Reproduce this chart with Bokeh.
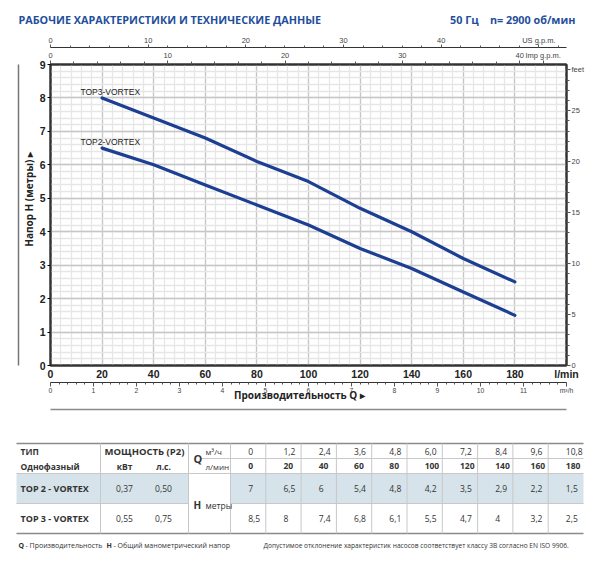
from bokeh.plotting import figure
from bokeh.models import (Range1d, LinearAxis, FixedTicker, Label, ColumnDataSource)
from bokeh.layouts import column
from bokeh.embed import file_html
from bokeh.resources import INLINE
from bokeh.core.properties import value

# ---------------- data ----------------
q_lmin = [0, 20, 40, 60, 80, 100, 120, 140, 160, 180]
q_m3h = [0, 1.2, 2.4, 3.6, 4.8, 6.0, 7.2, 8.4, 9.6, 10.8]
h_top2 = [7, 6.5, 6, 5.4, 4.8, 4.2, 3.5, 2.9, 2.2, 1.5]
h_top3 = [8.5, 8, 7.4, 6.8, 6.1, 5.5, 4.7, 4, 3.2, 2.5]
model_names = ["TOP 2 - VORTEX", "TOP 3 - VORTEX"]
curve_names = ["TOP2-VORTEX", "TOP3-VORTEX"]
power_kw = [0.37, 0.55]
power_hp = [0.50, 0.75]
curve_from = 20          # curves start at 20 l/min
y_ticks_m = list(range(0, 10))
x_ticks_lmin = [0, 20, 40, 60, 80, 100, 120, 140, 160, 180]
m3h_ticks = list(range(0, 12))
us_ticks = [0, 10, 20, 30, 40]
imp_ticks = [0, 10, 20, 30, 40]
feet_ticks = [0, 5, 10, 15, 20, 25]
title_left = "РАБОЧИЕ ХАРАКТЕРИСТИКИ И ТЕХНИЧЕСКИЕ ДАННЫЕ"
title_freq = "50 Гц"
title_speed = "n= 2900 об/мин"
x_title = "Производительность Q  ▸"
y_title = "Напор H (метры)  ▸"

LPM_PER_US = 3.78541
LPM_PER_IMP = 4.54609
M_PER_FT = 0.3048
X_MAX = 200
Y_MAX = 9

BLUE = "#1f4f9c"
CURVE = "#1d3f93"
DARK = "#333333"
AXF = "Liberation Sans"
SANS = "Open Sans"
NB = "\u00a0"

# ---------------- chart figure ----------------
W = 600
PH = 404
ML, MR, MT = 50, 34, 64
FRAME_BOTTOM = 366
MB = PH - FRAME_BOTTOM

p = figure(width=W, height=PH, x_range=Range1d(0, X_MAX), y_range=Range1d(0, Y_MAX),
           output_backend="svg", toolbar_location=None,
           min_border_left=ML, min_border_right=MR, min_border_top=MT, min_border_bottom=MB)
p.outline_line_color = DARK
p.outline_line_width = 2

# title (non-breaking spaces keep the right-hand part on the same row)
p.title.text = title_left + NB * 46 + title_freq + NB * 4 + title_speed
p.title.align = "left"
p.title.offset = -32
p.title.text_font = SANS
p.title.text_font_size = "10.8px"
p.title.text_font_style = "bold"
p.title.text_color = BLUE
p.title.standoff = 12

xt = FixedTicker(ticks=x_ticks_lmin + [X_MAX], minor_ticks=list(range(0, X_MAX + 1, 4)))
yt = FixedTicker(ticks=y_ticks_m, minor_ticks=[i / 5 for i in range(0, 46)])
xa = p.xaxis[0]
xa.ticker = xt
xa.major_label_overrides = {X_MAX: "l/min"}
ya = p.yaxis[0]
ya.ticker = yt
p.xgrid.ticker = xt
p.ygrid.ticker = yt
for g in (p.xgrid, p.ygrid):
    g.grid_line_color = "#c6c6c6"
    g.grid_line_width = 1.3
    g.minor_grid_line_color = "#e6e6e6"
    g.minor_grid_line_width = 1.3

for a in (xa, ya):
    a.axis_line_color = DARK
    a.axis_line_width = 2
    a.major_tick_in = 0
    a.minor_tick_in = 0
    a.minor_tick_out = 0
    a.major_label_text_font = AXF
    a.major_label_text_font_style = "bold"
    a.major_label_text_font_size = "10.5px"
    a.major_label_text_color = "#222222"
xa.major_tick_out = 0
xa.major_label_standoff = 2
ya.major_tick_out = 3
ya.major_label_standoff = 2
ya.axis_label = NB * 13 + y_title
ya.axis_label_text_font = SANS
ya.axis_label_text_font_style = "bold"
ya.axis_label_text_font_size = "10px"
ya.axis_label_text_color = "#222222"
ya.axis_label_standoff = 1

p.extra_x_ranges = {"m3h": Range1d(0, X_MAX * 0.06),
                    "imp": Range1d(0, X_MAX / LPM_PER_IMP),
                    "us": Range1d(0, X_MAX / LPM_PER_US)}
p.extra_y_ranges = {"ft": Range1d(0, Y_MAX / M_PER_FT)}

def small_axis(a, line_w=1.2, tick=5, minor=3, standoff=1, size="7.5px"):
    a.axis_line_color = DARK
    a.axis_line_width = line_w
    a.major_tick_in = 0
    a.minor_tick_in = 0
    a.major_tick_out = tick
    a.minor_tick_out = minor
    a.major_tick_line_color = "#555555"
    a.minor_tick_line_color = "#555555"
    a.major_label_text_font = AXF
    a.major_label_text_font_size = size
    a.major_label_text_color = "#444444"
    a.major_label_standoff = standoff

ax_m3h = LinearAxis(x_range_name="m3h",
                    ticker=FixedTicker(ticks=m3h_ticks + [12], minor_ticks=[i / 5 for i in range(0, 61)]))
small_axis(ax_m3h, tick=4, minor=2, standoff=0, size="6.8px")
ax_m3h.major_label_overrides = {12: "m³/h"}
ax_m3h.axis_label = x_title + NB * 6
ax_m3h.axis_label_text_font = SANS
ax_m3h.axis_label_text_font_style = "bold"
ax_m3h.axis_label_text_font_size = "10px"
ax_m3h.axis_label_text_color = "#222222"
ax_m3h.axis_label_standoff = -9
p.add_layout(ax_m3h, "below")

ax_imp = LinearAxis(x_range_name="imp",
                    ticker=FixedTicker(ticks=imp_ticks + [42], minor_ticks=list(range(0, 44, 2))))
small_axis(ax_imp, 2, tick=4, minor=3)
ax_imp.major_label_overrides = {42: "Imp g.p.m."}
p.add_layout(ax_imp, "above")

ax_us = LinearAxis(x_range_name="us",
                   ticker=FixedTicker(ticks=us_ticks + [50], minor_ticks=list(range(0, 53, 2))))
small_axis(ax_us, 1.2, tick=3, minor=2, standoff=0)
ax_us.major_label_overrides = {50: "US g.p.m."}
p.add_layout(ax_us, "above")

ax_ft = LinearAxis(y_range_name="ft",
                   ticker=FixedTicker(ticks=feet_ticks + [29], minor_ticks=list(range(0, 30))))
small_axis(ax_ft, 2, tick=4, minor=3)
ax_ft.major_label_overrides = {29: "feet"}
p.add_layout(ax_ft, "right")

# plain rule at the far left (an axis with only its line)
rule_l = LinearAxis(ticker=FixedTicker(ticks=[]), axis_line_color="#777777", axis_line_width=1.5,
                    major_tick_line_color=None, minor_tick_line_color=None)
p.add_layout(rule_l, "left")

# curves
i0 = q_lmin.index(curve_from)
for h in (h_top2, h_top3):
    p.line(q_lmin[i0:], h[i0:], line_color=CURVE, line_width=3.2, line_cap="round",
           line_join="round")
for name, h in zip(curve_names, (h_top2, h_top3)):
    p.add_layout(Label(x=curve_from - 8.4, y=h[i0] + 0.17, text=name,
                       text_font=AXF, text_font_size="8.5px", text_color="#222222",
                       text_baseline="alphabetic"))

# ---------------- lower figure: rule and data table ----------------
TH = 562 - PH
T0 = PH   # page y of this figure's top

t = figure(width=W, height=TH, y_range=Range1d(T0 + TH, T0),
           output_backend="svg", toolbar_location=None, min_border=0,
           x_axis_type=None, y_axis_type=None)
try:
    t.title_location = None
except Exception:
    t.title.visible = False
aligned = False
try:
    p.frame_align = False
    t.frame_align = False
except Exception:
    aligned = True
if aligned:
    t.min_border_left = ML
    t.min_border_right = MR
    t.x_range = Range1d(ML, W - MR)
else:
    t.x_range = Range1d(0, W)
t.grid.visible = False
t.outline_line_color = None

frame_right = W - MR
rule_y = 409

n = len(q_lmin)
c_left, c_type, c_pow, c_q = 16, 100, 188, 230
c_end = 583
cw = (c_end - c_q) / n
col_cent = [c_q + cw * (i + 0.5) for i in range(n)]
r_top, r_1, r_2, r_3, r_bot = 443, 458, 473, 503, 533

# shaded TOP 2 row
t.quad(left=[c_left, c_q], right=[c_pow, c_end], top=[r_2, r_2], bottom=[r_3, r_3],
       fill_color="#d7e3ea", line_color=None)

# horizontal rules (first one: the rule under the chart)
t.segment(x0=[ML, c_left, c_left], y0=[rule_y, r_top, r_bot],
          x1=[frame_right, c_end, c_end], y1=[rule_y, r_top, r_bot],
          line_color="#8a8a8a", line_width=1.6)
t.segment(x0=[c_left, 200, c_left, c_q], y0=[r_2, r_1, r_3, r_3],
          x1=[c_end, c_end, c_pow, c_end], y1=[r_2, r_1, r_3, r_3],
          line_color="#c8c8c8", line_width=1)
# vertical rules
vx = [c_type, c_pow, c_q] + [c_q + cw * i for i in range(1, n)]
t.segment(x0=vx, y0=[r_top] * len(vx), x1=vx, y1=[r_bot] * len(vx),
          line_color="#c8c8c8", line_width=1)

TXT = "#333333"
def ttext(xs, ys, texts, size="8.5px", style="normal", align="left", color=TXT):
    src = ColumnDataSource(dict(x=xs, y=ys, text=texts))
    t.text(x="x", y="y", text="text", source=src, text_font=value(SANS), text_font_size=size,
           text_font_style=style, text_align=align, text_baseline="middle", text_color=color)

def fmt_q(v):
    return "0" if v == 0 else f"{v:.1f}".replace(".", ",")

def fmt_h(v):
    return f"{v:g}".replace(".", ",")

def fmt_p(v):
    return f"{v:.2f}".replace(".", ",")

y1 = (r_top + r_1) / 2
y2 = (r_1 + r_2) / 2
ya_ = (r_2 + r_3) / 2
yb_ = (r_3 + r_bot) / 2

ttext([20], [y1], ["ТИП"], style="bold")
ttext([20], [y2], ["Однофазный"], style="bold")
ttext([144], [y1], ["МОЩНОСТЬ (P2)"], size="9.5px", style="bold", align="center")
ttext([124, 163], [y2, y2], ["кВт", "л.с."], style="bold", align="center")
ttext([193], [r_1], ["Q"], size="11px", style="bold")
ttext([205, 205], [y1, y2], ["м³/ч", "л/мин"], size="8px")
ttext(col_cent, [y1] * n, [fmt_q(v) for v in q_m3h])
ttext(col_cent, [y2] * n, [str(v) for v in q_lmin], style="bold")
ttext([20, 20], [ya_, yb_], model_names, size="9px", style="bold")
ttext([124, 124], [ya_, yb_], [fmt_p(v) for v in power_kw], align="center")
ttext([163, 163], [ya_, yb_], [fmt_p(v) for v in power_hp], align="center")
ttext([193], [r_3 + 1], ["H"], size="10px", style="bold")
ttext([205], [r_3 + 2], ["метры"], size="8.5px")
ttext(col_cent, [ya_] * n, [fmt_h(v) for v in h_top2])
ttext(col_cent, [yb_] * n, [fmt_h(v) for v in h_top3])

# footnotes
fy_note = 545
ttext([18], [fy_note], ["Q"], size="7px", style="bold")
ttext([25], [fy_note], ["- Производительность"], size="7px")
ttext([106], [fy_note], ["H"], size="7px", style="bold")
ttext([113], [fy_note], ["- Общий манометрический напор"], size="7px")
ttext([263], [fy_note],
      ["Допустимое отклонение характеристик насосов соответствует классу 3B согласно EN ISO 9906."],
      size="6.6px")

layout = column(p, t)
open("out.html", "w").write(file_html(layout, INLINE))
